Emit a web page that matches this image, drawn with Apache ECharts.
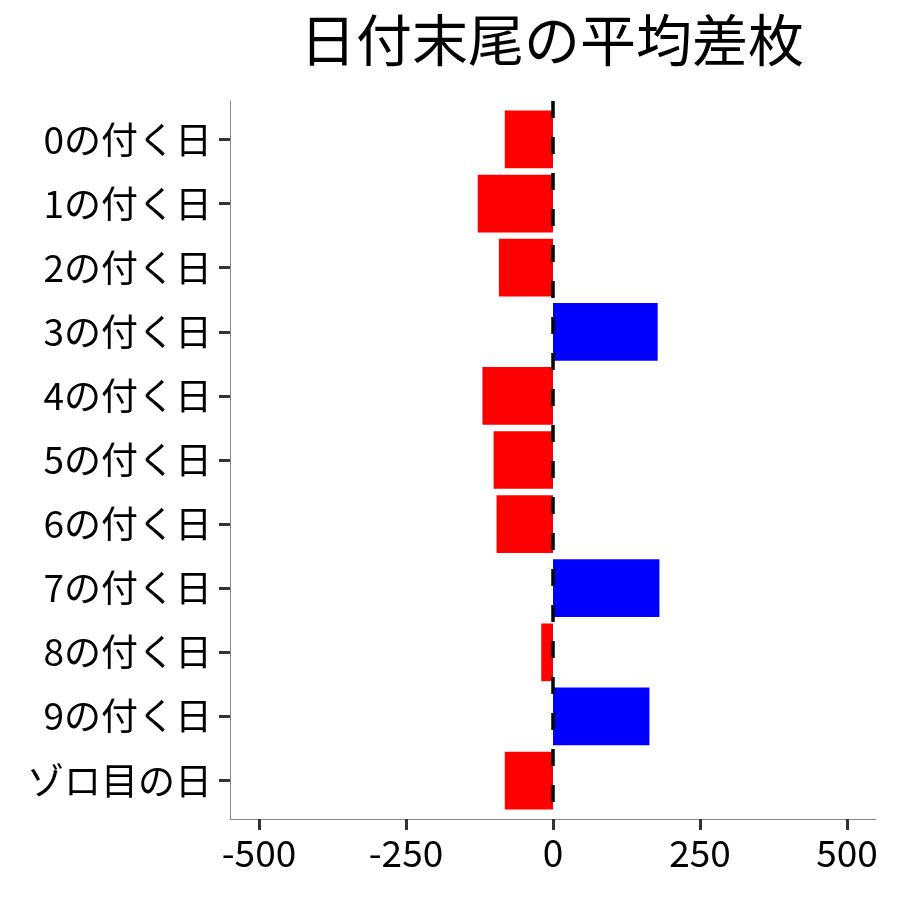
<!DOCTYPE html>
<html>
<head>
<meta charset="utf-8">
<script src="https://cdn.jsdelivr.net/npm/echarts@6/dist/echarts.min.js"></script>
<style>
html,body{margin:0;padding:0;background:#fff;}
#chart{width:900px;height:900px;}
</style>
</head>
<body>
<div id="chart"></div>
<script>
var titleText = '日付末尾の平均差枚';
var categories = ['0の付く日','1の付く日','2の付く日','3の付く日','4の付く日','5の付く日','6の付く日','7の付く日','8の付く日','9の付く日','ゾロ目の日'];
var values = [-82, -128, -92, 178, -120, -101, -96, 181, -20, 164, -82];
var xMin = -500, xMax = 500, xStep = 250;
var xPadMin = -550, xPadMax = 550;
var refLineX = 0;

var FONT = '"Noto Sans CJK JP", "Noto Sans", sans-serif';
var chart = echarts.init(document.getElementById('chart'), null, {renderer: 'canvas'});
var barData = values.map(function (v) {
  return {value: v, itemStyle: {color: v < 0 ? '#FF0000' : '#0000FF'}};
});
chart.setOption({
  backgroundColor: '#ffffff',
  animation: false,
  title: {
    text: titleText,
    left: 547,
    top: 7,
    textAlign: 'center',
    textStyle: {fontFamily: FONT, fontSize: 56, fontWeight: 'normal', color: '#000'}
  },
  grid: [
    {left: 259, right: 53, top: 107.4, bottom: 87.4, containLabel: false},
    {left: 230, right: 24, top: 101, bottom: 81, containLabel: false}
  ],
  xAxis: [{
    type: 'value', gridIndex: 0,
    min: xMin, max: xMax, interval: xStep,
    offset: 6.4,
    splitLine: {show: false},
    axisLine: {show: false},
    axisTick: {show: true, length: 11, lineStyle: {color: '#333333', width: 3}},
    axisLabel: {margin: 15, fontFamily: FONT, fontSize: 37, color: '#000'}
  }, {
    type: 'value', gridIndex: 1,
    min: xPadMin, max: xPadMax,
    splitLine: {show: false},
    axisLine: {show: true, onZero: false, lineStyle: {color: '#888888', width: 1}},
    axisTick: {show: false},
    axisLabel: {show: false}
  }],
  yAxis: [{
    type: 'category', gridIndex: 0,
    data: categories, inverse: true,
    offset: 29,
    axisLine: {show: false, onZero: false},
    axisTick: {show: true, alignWithLabel: true, length: 11, lineStyle: {color: '#333333', width: 3}},
    axisLabel: {margin: 18, fontFamily: FONT, fontSize: 37, color: '#000'},
    splitLine: {show: false}
  }, {
    type: 'category', gridIndex: 1,
    data: categories, inverse: true,
    axisLine: {show: true, onZero: false, lineStyle: {color: '#888888', width: 1}},
    axisTick: {show: false},
    axisLabel: {show: false},
    splitLine: {show: false}
  }],
  series: [{
    type: 'bar',
    xAxisIndex: 0, yAxisIndex: 0,
    data: barData,
    barWidth: '90%'
  }, {
    type: 'line',
    xAxisIndex: 1, yAxisIndex: 1,
    data: [],
    z: 5,
    markLine: {
      silent: true,
      symbol: 'none',
      label: {show: false},
      lineStyle: {type: [17, 19], width: 3.5, color: '#000000'},
      data: [{xAxis: refLineX}]
    }
  }]
});
</script>
</body>
</html>
